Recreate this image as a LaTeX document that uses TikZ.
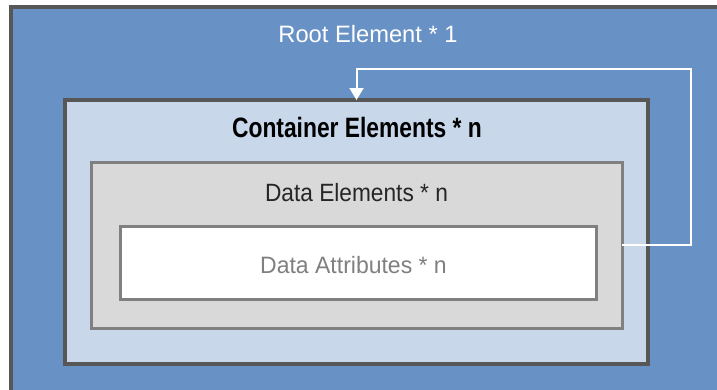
\documentclass[tikz,border=0pt]{standalone}
\usepackage{fontspec}
\setmainfont{Liberation Sans}
\usetikzlibrary{arrows.meta}
\definecolor{rootblue}{HTML}{6892C5}
\definecolor{contfill}{HTML}{C8D7EA}
\definecolor{datafill}{HTML}{D9D9D9}
\definecolor{darkedge}{HTML}{575757}
\definecolor{midedge}{HTML}{808080}
\begin{document}
\begin{tikzpicture}[x=1pt,y=-1pt,
  boxstyle/.style={rectangle,inner sep=0pt,outer sep=0pt},
  labelstyle/.style={anchor=base,inner sep=0pt},
  loopline/.style={white,line width=2pt,-{Triangle[width=14pt,length=12pt]}}]
\useasboundingbox (0,0) rectangle (717,389);
\clip (0,0) rectangle (717,389);
\fill[white] (0,0) rectangle (717,389);
\node[boxstyle,draw=darkedge,fill=rootblue,line width=3.5pt,minimum width=740pt,minimum height=420pt,anchor=north west] (root) at (11,7) {};
\node[boxstyle,draw=darkedge,fill=contfill,line width=3.5pt,minimum width=583pt,minimum height=264pt] (cont) at (356.5,232) {};
\node[boxstyle,draw=midedge,fill=datafill,line width=3pt,minimum width=531pt,minimum height=166pt] (data) at (356.5,245) {};
\node[boxstyle,draw=midedge,fill=white,line width=3pt,minimum width=476pt,minimum height=73pt] (attr) at (358,262.5) {};
\node[labelstyle,text=white] (rootlabel) at (368,42) {\fontsize{23.7}{24}\selectfont Root Element * 1};
\node[labelstyle,text=black] (contlabel) at (357,137) {\scalebox{0.815}[1]{\fontsize{28}{28}\selectfont\bfseries Container Elements * n}};
\node[labelstyle,text=black!85] (datalabel) at (356.5,201) {\scalebox{0.908}[1]{\fontsize{25}{25}\selectfont Data Elements * n}};
\node[labelstyle,text=midedge] (attrlabel) at (353.5,273) {\scalebox{0.97}[1]{\fontsize{23.7}{24}\selectfont Data Attributes * n}};
\coordinate (c1) at (691,245);
\coordinate (c2) at (691,68.5);
\coordinate (c3) at (cont.north |- c2);
\draw[loopline] (data.east) -- (c1) -- (c2) -- (c3) -- (cont.north);
\end{tikzpicture}
\end{document}
